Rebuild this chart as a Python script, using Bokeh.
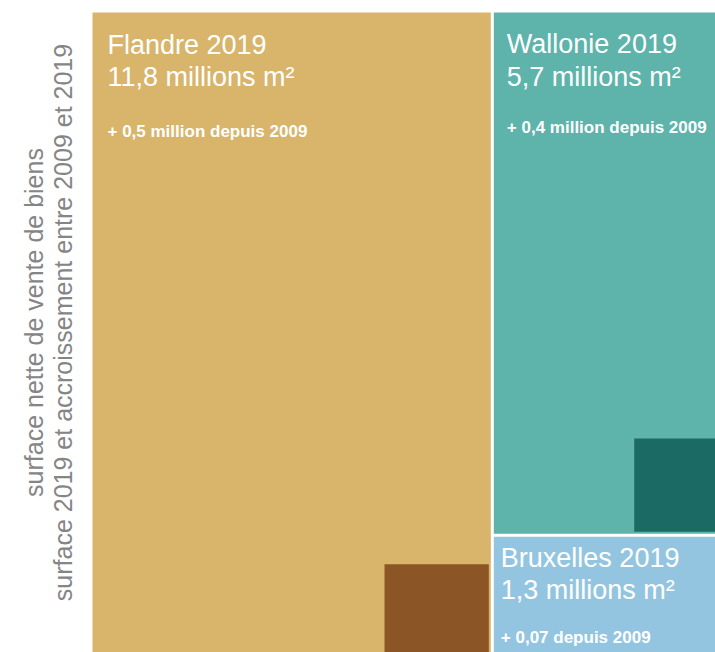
import math
from bokeh.plotting import figure
from bokeh.models import Range1d, ColumnDataSource
from bokeh.embed import file_html
from bokeh.resources import INLINE
from bokeh.core.properties import value

# ---------------- data ----------------
regions = ["Flandre", "Wallonie", "Bruxelles"]
surface_2019 = [11.8, 5.7, 1.3]          # millions m²
increase_since_2009 = [0.5, 0.4, 0.07]   # millions m²
value_labels = ["11,8 millions m²", "5,7 millions m²", "1,3 millions m²"]
increase_labels = ["+ 0,5 million depuis 2009",
                   "+ 0,4 million depuis 2009",
                   "+ 0,07 depuis 2009"]
axis_lines = ["surface nette de vente de biens",
              "surface 2019 et accroissement entre 2009 et 2019"]

# ---------------- style / layout ----------------
base_colors = ["#D8B56B", "#5EB3AA", "#94C5E0"]
dark_colors = ["#8B5526", "#1B6B64", "#2F6F93"]
LEFT, TOP = 92, 12
TOTAL_W, TOTAL_H = 637, 642
GAP = 3
INSET = 2
FONT = "Liberation Sans"

total = sum(surface_2019)
k = TOTAL_W * TOTAL_H / total           # px² per million m²

# treemap: first region fills the left column, the others stack on the right
left_w = TOTAL_W * surface_2019[0] / total
rest = sum(surface_2019[1:])
rects = []
rects.append((LEFT, LEFT + left_w - GAP / 2, TOP, TOP + TOTAL_H + 20))
y = TOP
for i in range(1, len(regions)):
    h = TOTAL_H * surface_2019[i] / rest
    t = y + (GAP / 2 if i > 1 else 0)
    b = y + h - (GAP / 2 if i < len(regions) - 1 else 0)
    rects.append((LEFT + left_w + GAP / 2, LEFT + TOTAL_W, t, b))
    y += h

src = ColumnDataSource(dict(
    left=[r[0] for r in rects], right=[r[1] for r in rects],
    top=[r[2] for r in rects], bottom=[r[3] for r in rects],
    color=base_colors))

sq = dict(left=[], right=[], top=[], bottom=[], color=[])
for i, r in enumerate(rects[:2]):   # Brussels square lies outside the visible crop
    side = math.sqrt(increase_since_2009[i] * k)
    bottom = min(r[3], TOP + TOTAL_H + 16) - INSET
    sq["right"].append(r[1] - INSET)
    sq["left"].append(r[1] - INSET - side)
    sq["bottom"].append(bottom)
    sq["top"].append(bottom - side)
    sq["color"].append(dark_colors[i])
sq_src = ColumnDataSource(sq)

p = figure(width=715, height=652, output_backend="svg", toolbar_location=None,
           x_range=Range1d(0, 715), y_range=Range1d(652, 0),
           min_border=0, outline_line_color=None, background_fill_color="white")
p.axis.visible = False
p.grid.visible = False

p.quad(left="left", right="right", top="top", bottom="bottom",
       fill_color="color", line_color=None, source=src)
p.quad(left="left", right="right", top="top", bottom="bottom",
       fill_color="color", line_color=None, source=sq_src)

# labels: (x inset, title baseline, value baseline, increase baseline)
label_off = [(15, 32, 64, 119), (13, 31, 64, 115), (7, 21, 53, 101)]
tx, ty, vy, iy, titles = [], [], [], [], []
for i, r in enumerate(rects):
    dx, o1, o2, o3 = label_off[i]
    tx.append(r[0] + dx)
    ty.append(r[2] + o1)
    vy.append(r[2] + o2)
    iy.append(r[2] + o3)
    titles.append(f"{regions[i]} 2019")

p.text(x=tx, y=ty, text=titles, text_color="white", text_font=value(FONT),
       text_font_size="27px", text_baseline="alphabetic", text_align="left")
p.text(x=tx, y=vy, text=value_labels, text_color="white", text_font=value(FONT),
       text_font_size="27px", text_baseline="alphabetic", text_align="left")
p.text(x=tx, y=iy, text=increase_labels, text_color="white", text_font=value(FONT),
       text_font_size="17px", text_font_style="bold",
       text_baseline="alphabetic", text_align="left")

p.text(x=[33, 62], y=[322, 322], text=axis_lines, angle=math.pi / 2,
       text_color="#858585", text_font=value(FONT), text_font_size="25px",
       text_baseline="middle", text_align="center")

open("out.html", "w").write(file_html(p, INLINE))
